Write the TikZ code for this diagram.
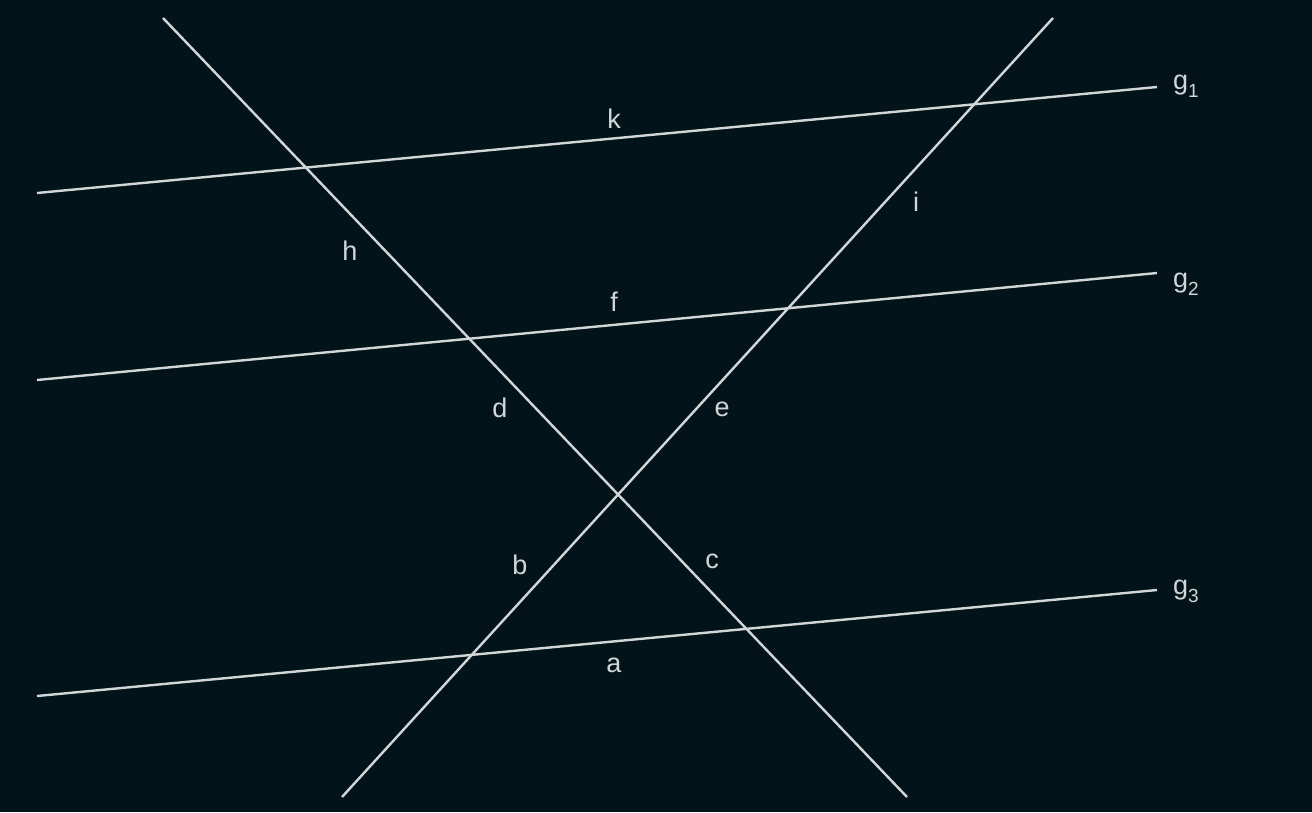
\documentclass[tikz,border=0pt]{standalone}
\usepackage{fontspec}
\setmainfont{Liberation Sans}
\usetikzlibrary{positioning,calc}
\definecolor{bgdark}{HTML}{02141A}
\definecolor{linegray}{HTML}{D2D6D6}
\newcommand{\gsub}[1]{\raisebox{-8pt}{\fontsize{19}{20}\selectfont #1}}

\begin{document}
\begin{tikzpicture}[
    x=1pt, y=-1pt,
    line/.style={draw=linegray, line width=2.4pt},
    lbl/.style={text=linegray, font=\fontsize{27}{32}\selectfont, inner sep=0pt}
]

% Background
\fill[bgdark] (0,0) rectangle (1312,812);
\useasboundingbox (0,0) rectangle (1312,812);

% End points
\coordinate (g1a) at (37,193);
\coordinate (g1b) at (1157,87);
\coordinate (g2a) at (37,380);
\coordinate (g2b) at (1157,273);
\coordinate (g3a) at (37,696);
\coordinate (g3b) at (1157,590);
\coordinate (fall1) at (163,18);
\coordinate (fall2) at (907,797);
\coordinate (rise1) at (1053,18);
\coordinate (rise2) at (342,797);

% Lines
\draw[line] (g1a) -- (g1b);
\draw[line] (g2a) -- (g2b);
\draw[line] (g3a) -- (g3b);
\draw[line] (fall1) -- (fall2);
\draw[line] (rise1) -- (rise2);

% Line names
\node[lbl, anchor=base west] (ng1) at (1173,89) {g\gsub{1}};
\node[lbl, anchor=base west] (ng2) at (1173,287) {g\gsub{2}};
\node[lbl, anchor=base west] (ng3) at (1173,594) {g\gsub{3}};

% Segment labels
\node[lbl] (k) at (614,119) {k};
\node[lbl] (h) at (350,251) {h};
\node[lbl] (i) at (916,202) {i};
\node[lbl] (f) at (614,302) {f};
\node[lbl] (d) at (500,408) {d};
\node[lbl] (e) at (722,409) {e};
\node[lbl] (b) at (520,565) {b};
\node[lbl] (c) at (712,561) {c};
\node[lbl] (a) at (614,665) {a};

\end{tikzpicture}
\end{document}
